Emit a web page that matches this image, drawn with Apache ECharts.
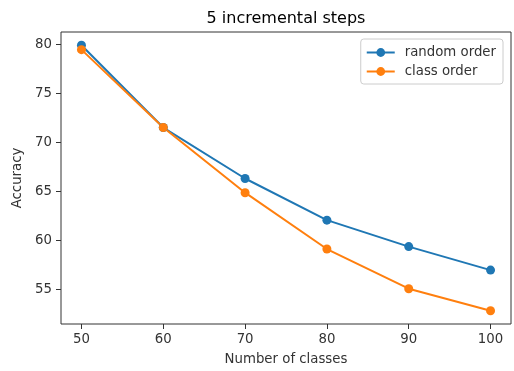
<!DOCTYPE html>
<html>
<head>
<meta charset="utf-8">
<script src="https://cdn.jsdelivr.net/npm/echarts@6/dist/echarts.min.js"></script>
<style>
  html, body { margin: 0; padding: 0; background: #fff; }
  #chart { width: 514px; height: 371px; }
</style>
</head>
<body>
<div id="chart"></div>
<script>
var classes = [50, 60, 70, 80, 90, 100];
var randomOrder = [79.9, 71.5, 66.3, 62.05, 59.35, 56.95];
var classOrder = [79.45, 71.5, 64.85, 59.1, 55.05, 52.8];
var xTicks = [50, 60, 70, 80, 90, 100];
var yTicks = [55, 60, 65, 70, 75, 80];

function pairs(xs, ys) {
  return xs.map(function (x, i) { return [x, ys[i]]; });
}

var font = "DejaVu Sans";
var tickStyle = { color: "#333", fontFamily: font, fontSize: 13.3 };

var option = {
  animation: false,
  color: ["#1f77b4", "#ff7f0e"],
  title: {
    text: "5 incremental steps",
    left: 286,
    top: 11,
    padding: 0,
    textAlign: "center",
    textStyle: { fontFamily: font, fontSize: 16, fontWeight: "normal", color: "#000" },
  },
  grid: {
    left: 61,
    right: 3,
    top: 32,
    bottom: 47,
    show: true,
    borderColor: "#333",
    borderWidth: 1,
  },
  legend: {
    orient: "vertical",
    right: 11,
    top: 39,
    padding: [7, 7, 6, 5],
    itemGap: 6,
    itemWidth: 28,
    itemHeight: 11,
    backgroundColor: "#fff",
    borderColor: "#ccc",
    borderWidth: 1,
    borderRadius: 3,
    textStyle: { fontFamily: font, fontSize: 13.3, color: "#333", padding: [0, 0, 0, 5] },
    data: ["random order", "class order"],
  },
  xAxis: {
    type: "value",
    min: 47.5,
    max: 102.5,
    name: "Number of classes",
    nameLocation: "middle",
    nameGap: 29,
    nameTextStyle: tickStyle,
    splitLine: { show: false },
    axisLine: { show: false },
    axisTick: { show: true, length: 5, customValues: xTicks, lineStyle: { color: "#333" } },
    axisLabel: Object.assign({ customValues: xTicks, margin: 9 }, tickStyle),
  },
  yAxis: {
    type: "value",
    min: 51.45,
    max: 81.25,
    name: "Accuracy",
    nameLocation: "middle",
    nameGap: 34,
    nameTextStyle: tickStyle,
    splitLine: { show: false },
    axisLine: { show: false },
    axisTick: { show: true, length: 5, customValues: yTicks, lineStyle: { color: "#333" } },
    axisLabel: Object.assign({ customValues: yTicks, margin: 9 }, tickStyle),
  },
  series: [
    {
      name: "random order",
      type: "line",
      data: pairs(classes, randomOrder),
      symbol: "circle",
      symbolSize: 9,
      lineStyle: { width: 2 },
    },
    {
      name: "class order",
      type: "line",
      data: pairs(classes, classOrder),
      symbol: "circle",
      symbolSize: 9,
      lineStyle: { width: 2 },
    },
  ],
};

var chart = echarts.init(document.getElementById("chart"));
chart.setOption(option);
</script>
</body>
</html>
